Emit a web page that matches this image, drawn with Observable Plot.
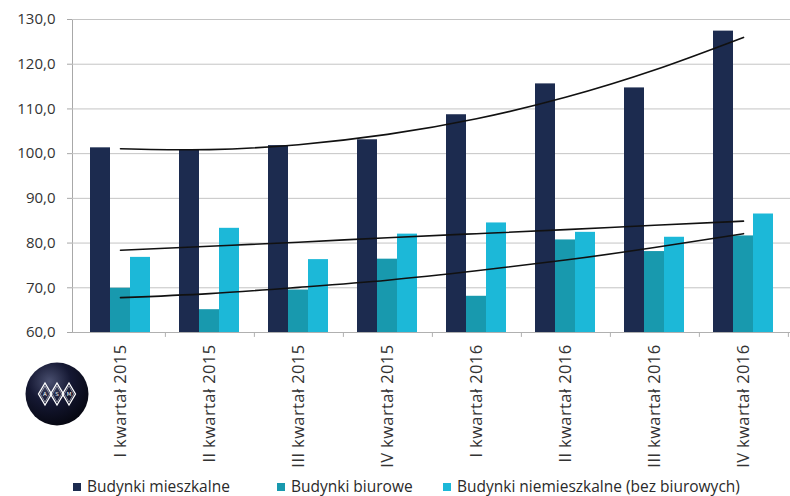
<!DOCTYPE html>
<html>
<head>
<meta charset="utf-8">
<script src="https://cdn.jsdelivr.net/npm/d3@7"></script>
<script src="https://cdn.jsdelivr.net/npm/@observablehq/plot@0.6"></script>
<style>
  html, body { margin: 0; padding: 0; background: #fff; }
  #wrap { position: relative; width: 790px; height: 496px; overflow: hidden; font-family: "Open Sans", sans-serif; }
  #chart { position: absolute; left: 0; top: 0; }
  #chart svg text { fill: #333333; font-family: "Open Sans", sans-serif; }
  #chart svg g[aria-label^="x-axis"] text { font-size: 16.5px; letter-spacing: 0.4px; }
  #legend { position: absolute; left: 0; top: 476px; width: 790px; height: 20px; font-size: 15.5px; color: #2a2a2a; }
  .li { position: absolute; top: 0; white-space: nowrap; line-height: 20px; }
  .sw { display: inline-block; width: 8px; height: 8px; margin-right: 6px; vertical-align: 1px; }
  #logo { position: absolute; left: 24px; top: 361px; }
</style>
</head>
<body>
<div id="wrap">
  <div id="chart"></div>
  <svg id="logo" width="66" height="66" viewBox="0 0 66 66">
    <defs>
      <radialGradient id="lg" cx="0.38" cy="0.3" r="0.75">
        <stop offset="0" stop-color="#4a5070"/>
        <stop offset="0.45" stop-color="#151833"/>
        <stop offset="1" stop-color="#05060f"/>
      </radialGradient>
    </defs>
    <circle cx="33" cy="33" r="31.5" fill="url(#lg)"/>
    <g fill="none" stroke="#ffffff" stroke-width="1.3">
      <path d="M21 22 L27.5 33 L21 44 L14.5 33 Z"/>
      <path d="M33 22 L39.5 33 L33 44 L26.5 33 Z"/>
      <path d="M45 22 L51.5 33 L45 44 L38.5 33 Z"/>
    </g>
    <g fill="none" stroke="#ffffff" stroke-width="0.6" opacity="0.8">
      <path d="M21 25 L25.7 33 L21 41 L16.3 33 Z"/>
      <path d="M33 25 L37.7 33 L33 41 L28.3 33 Z"/>
      <path d="M45 25 L49.7 33 L45 41 L40.3 33 Z"/>
    </g>
    <g fill="#ffffff" font-family="DejaVu Sans" font-size="5.5" text-anchor="middle">
      <text x="21" y="35">A</text>
      <text x="33" y="35">S</text>
      <text x="45" y="35">M</text>
    </g>
  </svg>
  <div id="legend"></div>
</div>
<script>
const categories = ["I kwartał 2015", "II kwartał 2015", "III kwartał 2015", "IV kwartał 2015",
                    "I kwartał 2016", "II kwartał 2016", "III kwartał 2016", "IV kwartał 2016"];
const seriesNames = ["Budynki mieszkalne", "Budynki biurowe", "Budynki niemieszkalne (bez biurowych)"];
const mieszkalne    = [101.3, 100.9, 101.8, 103.1, 108.7, 115.6, 114.7, 127.4];
const biurowe       = [69.9, 65.1, 69.5, 76.4, 68.1, 80.7, 78.1, 81.6];
const niemieszkalne = [76.8, 83.3, 76.3, 82.0, 84.5, 82.4, 81.3, 86.5];
// trend lines, at each quarter
const trendMieszkalne    = [101.1, 100.9, 102.0, 104.3, 107.8, 112.6, 118.7, 126.0];
const trendBiurowe       = [67.8, 68.7, 70.1, 71.7, 73.8, 76.2, 79.0, 82.1];
const trendNiemieszkalne = [78.4, 79.3, 80.2, 81.2, 82.1, 83.0, 84.0, 84.9];
const yTicks = [60, 70, 80, 90, 100, 110, 120, 130];
const colors = ["#1c2b4f", "#1899ae", "#1cb8d8"];

const values = [mieszkalne, biurowe, niemieszkalne];
const trends = [trendMieszkalne, trendBiurowe, trendNiemieszkalne];
const bars = values.map((arr, s) => categories.map((c, i) => ({cat: c, series: seriesNames[s], value: arr[i]})));
const trendData = trends.flatMap((arr, s) => categories.map((c, i) => ({cat: c, series: seriesNames[s], value: arr[i]})));

const W = 790, H = 496, ML = 72, MR = 0;
const step = (W - ML - MR) / categories.length;
const bw = 20;
const pInner = 1 - bw / step;
const offsets = [-bw, 0, bw];

const chart = Plot.plot({
  width: W,
  height: H,
  marginTop: 19,
  marginBottom: 164,
  marginLeft: ML,
  marginRight: MR,
  style: {fontFamily: "Open Sans", fontSize: "15px", color: "#a8a8a8", background: "transparent"},
  x: {domain: categories, paddingInner: pInner, paddingOuter: pInner / 2, tickSize: 0, tickRotate: -90, tickPadding: 12, label: null},
  y: {domain: [60, 130], ticks: yTicks, tickFormat: d => d.toFixed(1).replace(".", ","), tickSize: 5, tickPadding: 12, label: null, line: true},
  marks: [
    Plot.ruleY(yTicks.slice(1), {stroke: "#c4c4c4", strokeWidth: 1}),
    ...bars.map((b, s) => Plot.barY(b, {x: "cat", y1: () => 60, y2: "value", fill: colors[s], dx: offsets[s]})),
    Plot.ruleY([60], {stroke: "#b0b0b0", strokeWidth: 1}),
    Plot.ruleX(categories, {x: d => d, dx: step / 2, y1: () => 60, y2: () => 58.9, stroke: "#b0b0b0"}),
    Plot.line(trendData, {x: "cat", y: "value", z: "series", stroke: "#111111", strokeWidth: 1.6, curve: "natural"})
  ]
});
document.getElementById("chart").appendChild(chart);

const legendPos = [73, 277, 443];
const legend = document.getElementById("legend");
seriesNames.forEach((name, s) => {
  const item = document.createElement("div");
  item.className = "li";
  item.style.left = legendPos[s] + "px";
  item.innerHTML = `<span class="sw" style="background:${colors[s]}"></span>${name}`;
  legend.appendChild(item);
});
</script>
</body>
</html>
